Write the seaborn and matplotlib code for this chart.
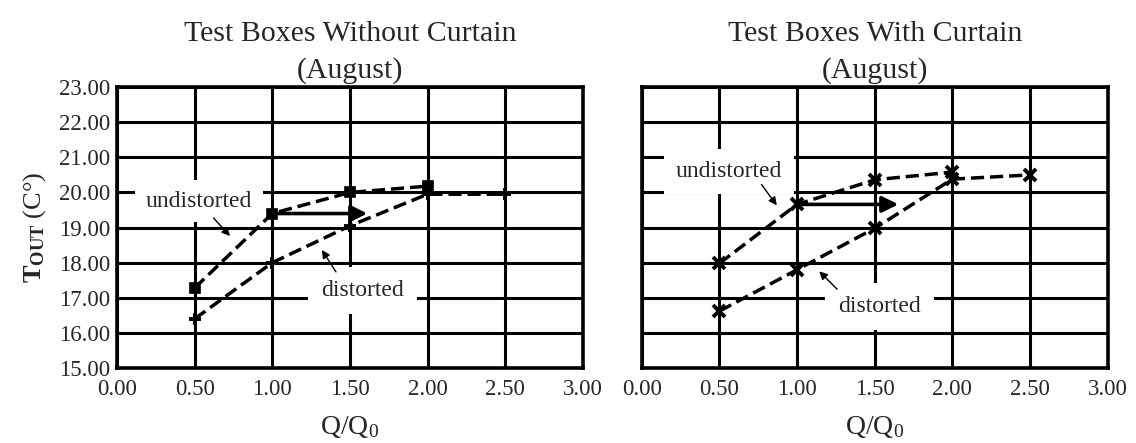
import matplotlib
matplotlib.use("Agg")
import matplotlib.pyplot as plt
import seaborn as sns
import pandas as pd
from matplotlib.ticker import FormatStrFormatter

sns.set_style("white")
plt.rcParams['font.family'] = ['Liberation Serif', 'DejaVu Serif']
plt.rcParams['mathtext.fontset'] = 'custom'
plt.rcParams['mathtext.rm'] = 'Liberation Serif'
plt.rcParams['mathtext.it'] = 'Liberation Serif:italic'
plt.rcParams['mathtext.bf'] = 'Liberation Serif:bold'

# data
q_und = [0.5, 1.0, 1.5, 2.0]
q_dist = [0.5, 1.0, 1.5, 2.0, 2.5]

left_und = [17.28, 19.40, 20.00, 20.18]
left_dist = [16.40, 18.00, 19.05, 19.95, 19.95]

right_und = [17.98, 19.66, 20.36, 20.58]
right_dist = [16.62, 17.80, 18.98, 20.38, 20.50]

titles = ["Test Boxes Without Curtain\n(August)", "Test Boxes With Curtain\n(August)"]
x_ticks = [0.0, 0.5, 1.0, 1.5, 2.0, 2.5, 3.0]
y_ticks = [15, 16, 17, 18, 19, 20, 21, 22, 23]

fig = plt.figure(figsize=(11.36, 4.43), dpi=100)
ax1 = fig.add_axes([0.103, 0.1693, 0.410, 0.634])
ax2 = fig.add_axes([0.565, 0.1693, 0.410, 0.634])

dash = (3.8, 1.7)


def draw_panel(ax, und, dist, und_marker, dist_marker, und_ms, dist_ms, und_mew):
    df_u = pd.DataFrame({'q': q_und, 't': und})
    df_d = pd.DataFrame({'q': q_dist, 't': dist})
    sns.lineplot(data=df_d, x='q', y='t', ax=ax, color='black', lw=2.5,
                 marker=dist_marker, markersize=dist_ms, markeredgewidth=2.8,
                 markeredgecolor='black', markerfacecolor='black',
                 dashes=False, zorder=5)
    sns.lineplot(data=df_u, x='q', y='t', ax=ax, color='black', lw=2.5,
                 marker=und_marker, markersize=und_ms, markeredgewidth=und_mew,
                 markeredgecolor='black', markerfacecolor='black',
                 dashes=False, zorder=6)
    for ln in ax.get_lines():
        ln.set_dashes(dash)
    ax.set_xlim(0, 3)
    ax.set_ylim(15, 23)
    ax.set_xticks(x_ticks)
    ax.set_yticks(y_ticks)
    ax.xaxis.set_major_formatter(FormatStrFormatter('%.2f'))
    ax.yaxis.set_major_formatter(FormatStrFormatter('%.2f'))
    ax.grid(True, color='black', lw=2.2)
    ax.set_axisbelow(True)
    for s in ax.spines.values():
        s.set_color('black')
        s.set_linewidth(2.6)
    ax.tick_params(axis='x', length=0, labelsize=16.5, pad=8)
    ax.tick_params(axis='y', length=0, labelsize=16.5, pad=5)
    ax.set_xlabel(r'Q/Q$_0$', fontsize=20, labelpad=10)
    ax.set_ylabel('')


draw_panel(ax1, left_und, left_dist, 's', '+', 7.5, 9, 1.2)
draw_panel(ax2, right_und, right_dist, 'x', 'x', 9, 9, 2.8)

ax1.set_title(titles[0], fontsize=21.5, linespacing=1.5, pad=7)
ax2.set_title(titles[1], fontsize=21.5, linespacing=1.5, pad=7)
ax2.tick_params(axis='y', labelleft=False)
ax1.set_ylabel(r'$\mathbf{T_{OUT}}$ (C°)', fontsize=19, labelpad=8)

box = dict(boxstyle='square,pad=0.45', fc='white', ec='none')
thin = dict(arrowstyle='-|>', color='black', lw=1.0, mutation_scale=12)
thick = dict(arrowstyle='-|>', color='black', lw=2.6, mutation_scale=24)

# left panel labels
ax1.text(0.53, 19.75, 'undistorted', fontsize=17, ha='center', va='center', bbox=box, zorder=4)
ax1.annotate('', xy=(0.74, 18.7), xytext=(0.61, 19.33), arrowprops=thin, zorder=7)
ax1.text(1.58, 17.22, 'distorted', fontsize=17, ha='center', va='center',
         bbox=dict(boxstyle='square,pad=0.55', fc='white', ec='none'), zorder=4)
ax1.annotate('', xy=(1.31, 18.43), xytext=(1.42, 17.67), arrowprops=thin, zorder=7)
ax1.annotate('', xy=(1.63, 19.4), xytext=(1.0, 19.4), arrowprops=thick, zorder=7)

# right panel labels
ax2.text(0.56, 20.6, 'undistorted', fontsize=17, ha='center', va='center',
         bbox=dict(boxstyle='square,pad=0.5', fc='white', ec='none'), zorder=4)
ax2.annotate('', xy=(0.88, 19.57), xytext=(0.76, 20.29), arrowprops=thin, zorder=7)
ax2.text(1.53, 16.75, 'distorted', fontsize=17, ha='center', va='center',
         bbox=dict(boxstyle='square,pad=0.55', fc='white', ec='none'), zorder=4)
ax2.annotate('', xy=(1.13, 17.81), xytext=(1.27, 17.19), arrowprops=thin, zorder=7)
ax2.annotate('', xy=(1.67, 19.66), xytext=(1.0, 19.66), arrowprops=thick, zorder=7)

fig.savefig('out.png', dpi=100)
